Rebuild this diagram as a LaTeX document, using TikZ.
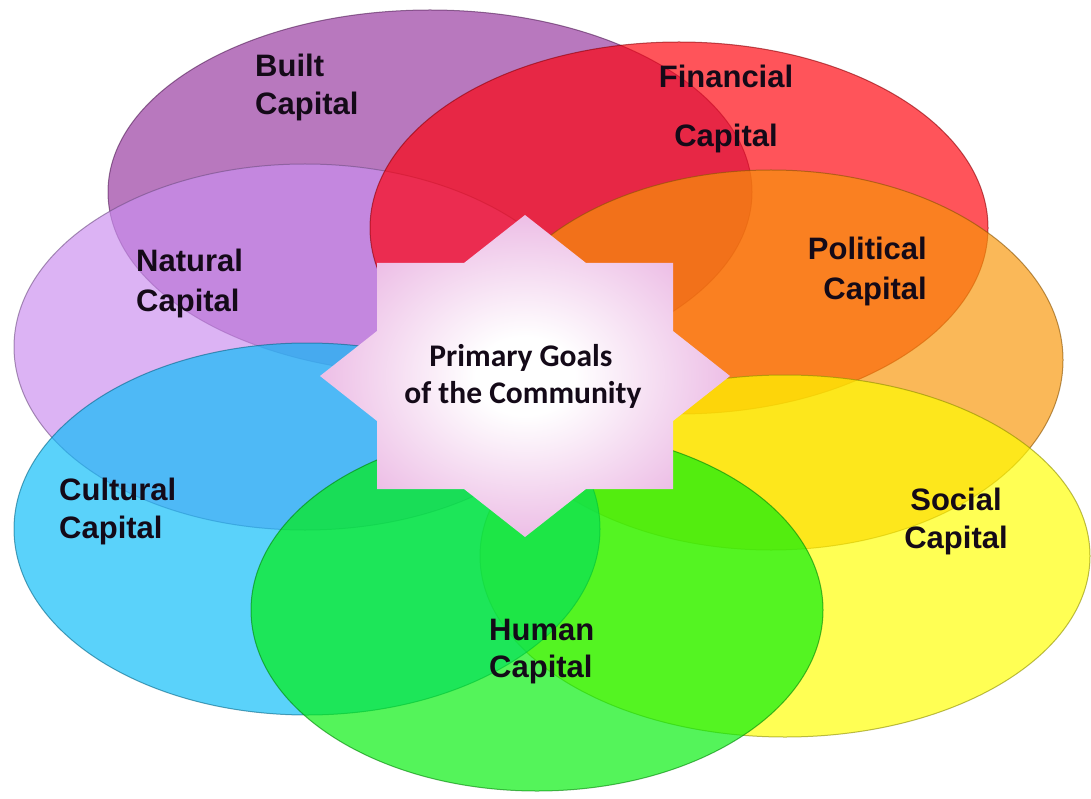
\documentclass[tikz,border=0pt]{standalone}
\usepackage{fontspec}
\setmainfont{Liberation Sans}
\newfontfamily\goalfont{Carlito}

% fill colours of the seven capitals (used at 67% opacity)
\definecolor{builtC}{RGB}{150,54,159}
\definecolor{naturalC}{RGB}{203,143,240}
\definecolor{financialC}{RGB}{255,0,10}
\definecolor{politicalC}{RGB}{248,150,6}
\definecolor{socialC}{RGB}{255,255,0}
\definecolor{culturalC}{RGB}{9,188,248}
\definecolor{humanC}{RGB}{0,240,10}
\definecolor{starC}{RGB}{234,180,226}
\definecolor{inkC}{RGB}{20,10,24}

% soft white core fading to pink for the central star
\pgfdeclareradialshading{starglow}{\pgfpoint{0bp}{0bp}}{%
  color(0bp)=(white); color(6bp)=(white); color(28bp)=(starC); color(50bp)=(starC)}

\tikzset{
  capital/.style={fill=#1, draw=#1!55!black, fill opacity=0.67,
                  draw opacity=0.6, line width=1pt},
  lbl/.style={font=\bfseries\fontsize{31}{38}\selectfont, text=inkC, inner sep=0pt},
  goaltext/.style={font=\goalfont\bfseries\fontsize{31.5}{38}\selectfont, text=inkC,
                   inner sep=0pt, anchor=base},
}

\begin{document}
\begin{tikzpicture}[x=1pt,y=-1pt]
\useasboundingbox[fill=white] (0,0) rectangle (1091,799);

% the seven overlapping capitals, bottom layer first
\path[capital=builtC]     (430,192) ellipse [x radius=322pt, y radius=182pt];
\path[capital=naturalC]   (305,347) ellipse [x radius=291pt, y radius=183pt];
\path[capital=financialC] (679,228) ellipse [x radius=309pt, y radius=186pt];
\path[capital=politicalC] (771,360) ellipse [x radius=292pt, y radius=190pt];
\path[capital=socialC]    (785,556) ellipse [x radius=305pt, y radius=181pt];
\path[capital=culturalC]  (307,529) ellipse [x radius=293pt, y radius=186pt];
\path[capital=humanC]     (537,610) ellipse [x radius=286pt, y radius=181pt];

% eight-pointed star in the centre
\shade[shading=starglow]
  (525,215) -- (586,263) -- (673,263) -- (673,331) -- (730,376)
  -- (673,421) -- (673,489) -- (586,489) -- (525,537) -- (464,489)
  -- (377,489) -- (377,421) -- (320,376) -- (377,331) -- (377,263)
  -- (464,263) -- cycle;

\node[goaltext] (goalA) at (521,366.5) {Primary Goals};
\node[goaltext] (goalB) at (523,403)   {of the Community};

% capital labels
\node[lbl, anchor=base west] (builtA) at (255,77)  {Built};
\node[lbl, anchor=base west] (builtB) at (255,115) {Capital};

\node[lbl, anchor=base] (finA) at (726,88)  {Financial};
\node[lbl, anchor=base] (finB) at (726,147) {Capital};

\node[lbl, anchor=base west] (natA) at (136,272) {Natural};
\node[lbl, anchor=base west] (natB) at (136,312) {Capital};

\node[lbl, anchor=base east] (polA) at (927,260) {Political};
\node[lbl, anchor=base east] (polB) at (927,300) {Capital};

\node[lbl, anchor=base west] (culA) at (59,500) {Cultural};
\node[lbl, anchor=base west] (culB) at (59,538) {Capital};

\node[lbl, anchor=base] (socA) at (956,510) {Social};
\node[lbl, anchor=base] (socB) at (956,548) {Capital};

\node[lbl, anchor=base west] (humA) at (489,640) {Human};
\node[lbl, anchor=base west] (humB) at (489,677) {Capital};
\end{tikzpicture}
\end{document}
